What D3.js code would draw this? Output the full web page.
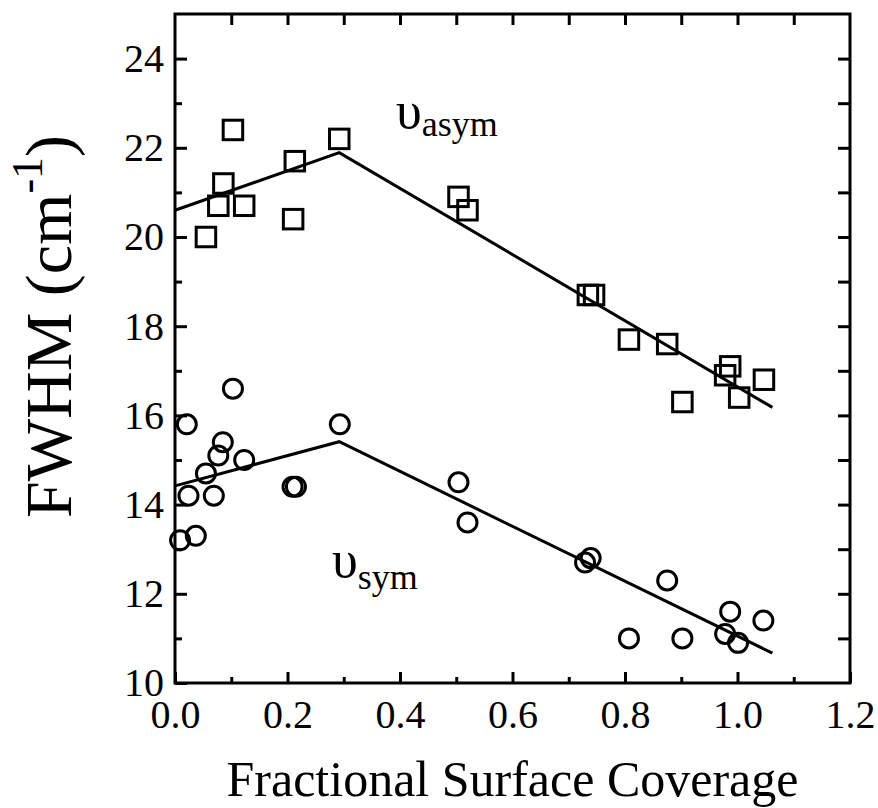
<!DOCTYPE html>
<html>
<head>
<meta charset="utf-8">
<script src="https://cdn.jsdelivr.net/npm/d3@7"></script>
<style>
  html, body { margin: 0; padding: 0; background: #fff; }
  svg { display: block; }
  text { font-family: "Liberation Serif", "Times New Roman", serif; fill: #000; }
</style>
</head>
<body>
<svg id="chart" width="878" height="808"></svg>
<script>
// ---- data ----
const asymX = [0.055, 0.077, 0.086, 0.103, 0.123, 0.210, 0.213, 0.292, 0.504, 0.520, 0.734, 0.745, 0.807, 0.875, 0.902, 0.978, 0.987, 1.003, 1.047];
const asymY = [20.0, 20.7, 21.2, 22.4, 20.7, 20.4, 21.7, 22.2, 20.9, 20.6, 18.7, 18.7, 17.7, 17.6, 16.3, 16.9, 17.1, 16.4, 16.8];

const symX = [0.009, 0.021, 0.024, 0.037, 0.055, 0.069, 0.077, 0.085, 0.103, 0.123, 0.209, 0.215, 0.293, 0.504, 0.520, 0.729, 0.739, 0.807, 0.875, 0.902, 0.978, 0.987, 1.001, 1.046];
const symY = [13.2, 15.8, 14.2, 13.3, 14.7, 14.2, 15.1, 15.4, 16.6, 15.0, 14.4, 14.4, 15.8, 14.5, 13.6, 12.7, 12.8, 11.0, 12.3, 11.0, 11.1, 11.6, 10.9, 11.4];

const asymFitX = [0.0, 0.292, 1.062];
const asymFitY = [20.6, 21.89, 16.18];
const symFitX = [0.0, 0.292, 1.062];
const symFitY = [14.42, 15.41, 10.67];

const xMajorTicks = [0.0, 0.2, 0.4, 0.6, 0.8, 1.0, 1.2];
const xMinorTicks = [0.1, 0.3, 0.5, 0.7, 0.9, 1.1];
const xTopTicks = [0.1, 0.2, 0.3, 0.4, 0.5, 0.6, 0.7, 0.8, 0.9, 1.0, 1.1];
const yMajorTicks = [10, 12, 14, 16, 18, 20, 22, 24];
const yMinorTicks = [11, 13, 15, 17, 19, 21, 23];
const yRightTicks = [11, 12, 13, 14, 15, 16, 17, 18, 19, 20, 21, 22, 23, 24];

const xTitle = "Fractional Surface Coverage";
const yTitleMain = "FWHM (cm";
const yTitleSup = "-1";
const yTitleEnd = ")";

// ---- layout ----
const svg = d3.select("#chart");
const L = 175, R = 850, T = 14, B = 683;
const x = d3.scaleLinear().domain([0, 1.2]).range([L, R]);
const y = d3.scaleLinear().domain([10, 25]).range([B, T]);
const SW = 3;

svg.append("rect").attr("width", 878).attr("height", 808).attr("fill", "#fff");

function styleAxis(g) {
  g.select(".domain").remove();
  g.selectAll(".tick line").attr("stroke", "#000").attr("stroke-width", SW);
  g.selectAll(".tick text").style("font-family", '"Liberation Serif", serif').style("font-size", "40px").attr("fill", "#000");
}

// bottom major
svg.append("g").attr("transform", `translate(0,${B})`)
  .call(d3.axisBottom(x).tickValues(xMajorTicks).tickSize(-11).tickPadding(17).tickFormat(d3.format(".1f")))
  .call(styleAxis);
// bottom minor
svg.append("g").attr("transform", `translate(0,${B})`)
  .call(d3.axisBottom(x).tickValues(xMinorTicks).tickSize(-6).tickFormat(""))
  .call(styleAxis);
// top
svg.append("g").attr("transform", `translate(0,${T})`)
  .call(d3.axisTop(x).tickValues(xTopTicks).tickSize(-11).tickFormat(""))
  .call(styleAxis);
// left major
svg.append("g").attr("transform", `translate(${L},0)`)
  .call(d3.axisLeft(y).tickValues(yMajorTicks).tickSize(-12).tickPadding(11).tickFormat(d3.format("d")))
  .call(styleAxis);
// left minor
svg.append("g").attr("transform", `translate(${L},0)`)
  .call(d3.axisLeft(y).tickValues(yMinorTicks).tickSize(-7).tickFormat(""))
  .call(styleAxis);
// right
svg.append("g").attr("transform", `translate(${R},0)`)
  .call(d3.axisRight(y).tickValues(yRightTicks).tickSize(-12).tickFormat(""))
  .call(styleAxis);

// frame
svg.append("rect").attr("x", L).attr("y", T).attr("width", R - L).attr("height", B - T)
  .attr("fill", "none").attr("stroke", "#000").attr("stroke-width", 3);

// fit lines
const line = d3.line().x(d => x(d[0])).y(d => y(d[1]));
svg.append("path").datum(d3.zip(asymFitX, asymFitY)).attr("d", line)
  .attr("fill", "none").attr("stroke", "#000").attr("stroke-width", SW);
svg.append("path").datum(d3.zip(symFitX, symFitY)).attr("d", line)
  .attr("fill", "none").attr("stroke", "#000").attr("stroke-width", SW);

// squares
const sq = 19.5;
svg.append("g").selectAll("rect").data(d3.zip(asymX, asymY)).join("rect")
  .attr("x", d => x(d[0]) - sq / 2).attr("y", d => y(d[1]) - sq / 2)
  .attr("width", sq).attr("height", sq)
  .attr("fill", "none").attr("stroke", "#000").attr("stroke-width", SW);

// circles
svg.append("g").selectAll("circle").data(d3.zip(symX, symY)).join("circle")
  .attr("cx", d => x(d[0])).attr("cy", d => y(d[1])).attr("r", 9.5)
  .attr("fill", "none").attr("stroke", "#000").attr("stroke-width", SW);

// series labels
const la = svg.append("text").attr("x", 396).attr("y", 128);
la.append("tspan").style("font-size", "52px").text("υ");
la.append("tspan").style("font-size", "36px").attr("dy", 8).text("asym");
const ls = svg.append("text").attr("x", 332).attr("y", 577);
ls.append("tspan").style("font-size", "52px").text("υ");
ls.append("tspan").style("font-size", "36px").attr("dy", 12).text("sym");

// axis titles
svg.append("text").attr("x", (L + R) / 2).attr("y", 796).attr("text-anchor", "middle")
  .style("font-size", "50px").text(xTitle);

const yt = svg.append("text").attr("transform", "translate(71,518) rotate(-90)").attr("x", 0).attr("y", 0)
  .style("font-size", "66px");
yt.append("tspan").text(yTitleMain);
yt.append("tspan").style("font-size", "44px").attr("dy", -29).text(yTitleSup);
yt.append("tspan").style("font-size", "66px").attr("dy", 29).text(yTitleEnd);
</script>
</body>
</html>
